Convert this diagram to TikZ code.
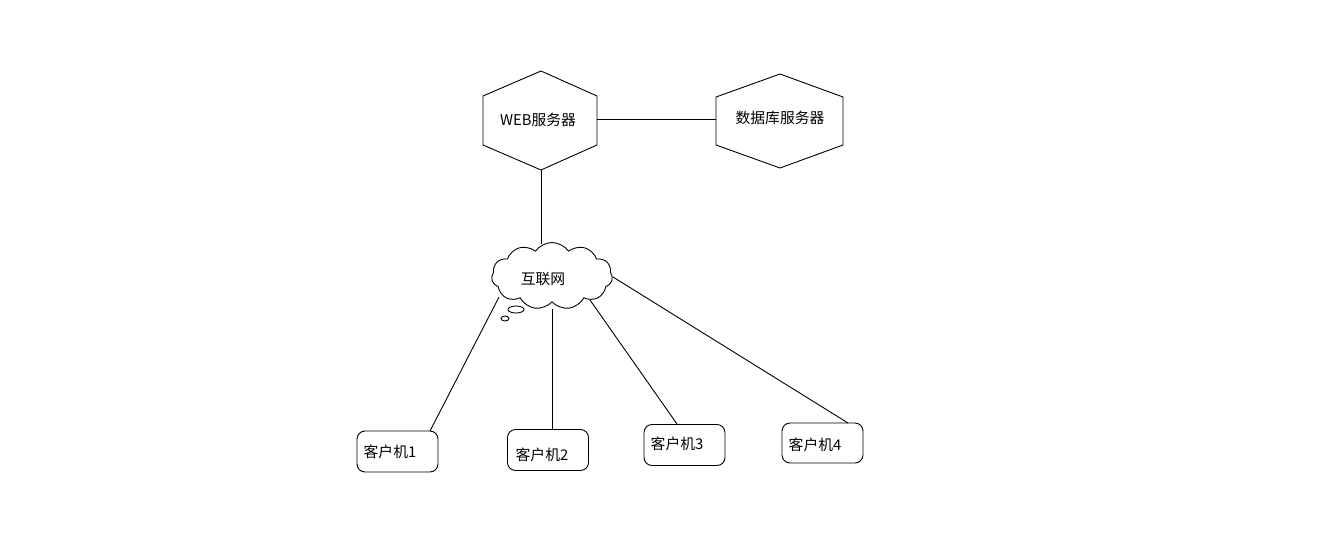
\documentclass[tikz,border=0pt]{standalone}
\usepackage{fontspec}
\newfontfamily\cjk{Noto Sans CJK SC}
\usetikzlibrary{shapes.symbols,shapes.geometric}
\begin{document}
\begin{tikzpicture}[x=1pt,y=-1pt,
  line width=0.9pt,
  lbl/.style={font=\cjk\fontsize{14.8}{17}\selectfont, inner sep=0pt},
  clientbox/.style={draw, rounded corners=8pt, minimum width=81pt, minimum height=41pt, inner sep=0pt},
  conn/.style={draw, line width=0.9pt}]
\useasboundingbox (0,0) rectangle (1328,538);
\fill[white] (0,0) rectangle (1328,538);
% WEB hexagon
\draw (541,71) -- (597,96) -- (597,145) -- (541,170) -- (483,145) -- (483,96) -- cycle;
\coordinate (webB) at (541,170);
\coordinate (webR) at (597,119);
\node[lbl] (web) at (538,120) {WEB服务器};
% DB hexagon
\draw (780,74) -- (843,97) -- (843,145) -- (780,168) -- (716,145) -- (716,97) -- cycle;
\coordinate (dbL) at (716,119);
\node[lbl] (db) at (780,118) {数据库服务器};
\draw[conn] (webR) -- (dbL);
% cloud
\node[draw, cloud, cloud puffs=11, cloud puff arc=110, cloud ignores aspect, minimum width=121pt, minimum height=67pt, inner sep=0pt] (net) at (552,276) {};
\node[lbl] (netl) at (543,279) {互联网};
\draw (516,309.5) ellipse [x radius=8, y radius=3.5];
\draw (505,318.5) ellipse [x radius=4, y radius=2.5];
\coordinate (netT) at (541,244);
\draw[conn] (webB) -- (netT);
% clients
\node[clientbox] (c1) at (397.5,451.5) {};
\node[lbl] at (390,452) {客户机1};
\node[clientbox] (c2) at (548,450) {};
\node[lbl] at (542,455) {客户机2};
\node[clientbox] (c3) at (684.5,445) {};
\node[lbl] at (677,444) {客户机3};
\node[clientbox, minimum height=40pt] (c4) at (822.5,443) {};
\node[lbl] at (815,445) {客户机4};
\coordinate (n1) at (499,297);
\coordinate (n2) at (552,309);
\coordinate (n3) at (590,300);
\coordinate (n4) at (613,277);
\coordinate (e1) at (430,431);
\coordinate (e2) at (552,429);
\coordinate (e3) at (677,424);
\coordinate (e4) at (848,423);
\draw[conn] (n1) -- (e1);
\draw[conn] (n2) -- (e2);
\draw[conn] (n3) -- (e3);
\draw[conn] (n4) -- (e4);
\end{tikzpicture}
\end{document}
